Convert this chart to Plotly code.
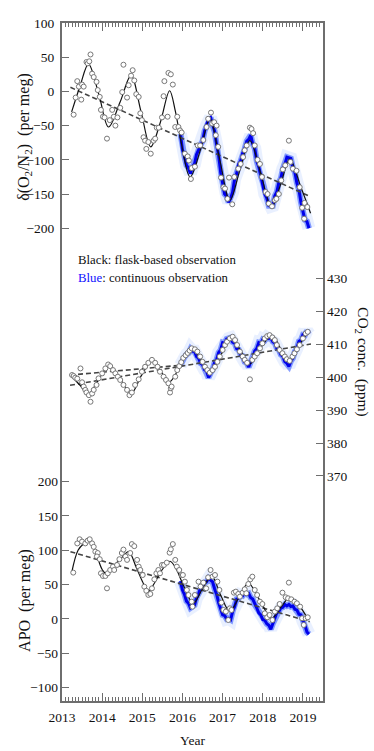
import plotly.graph_objects as go

# ---------------- DATA ----------------
# delta(O2/N2) panel (per meg)
o2_flask_t = [2013.29, 2013.34, 2013.38, 2013.42, 2013.48, 2013.50, 2013.54, 2013.61, 2013.64, 2013.68,
              2013.71, 2013.75, 2013.79, 2013.86, 2013.89, 2013.94, 2013.97, 2014.02, 2014.06, 2014.12,
              2014.19, 2014.25, 2014.29, 2014.33, 2014.38, 2014.45, 2014.50, 2014.53, 2014.62, 2014.66,
              2014.72, 2014.76, 2014.80, 2014.85, 2014.91, 2014.95, 2014.99, 2015.03, 2015.07, 2015.10,
              2015.15, 2015.21, 2015.28, 2015.32, 2015.36, 2015.41, 2015.49, 2015.53, 2015.55, 2015.63,
              2015.65, 2015.71, 2015.76, 2015.82, 2015.87, 2015.90, 2015.94,
              2015.98, 2016.06, 2016.13, 2016.16, 2016.21, 2016.23, 2016.31, 2016.38, 2016.44, 2016.52,
              2016.60, 2016.64, 2016.71, 2016.74, 2016.79, 2016.83, 2016.85, 2016.89, 2016.96, 2017.02,
              2017.06, 2017.12, 2017.16, 2017.24, 2017.29, 2017.39, 2017.45, 2017.51, 2017.55, 2017.60,
              2017.68, 2017.72, 2017.76, 2017.80, 2017.87, 2017.93, 2017.98, 2018.07, 2018.12, 2018.15,
              2018.23, 2018.30, 2018.34, 2018.40, 2018.46, 2018.50, 2018.56, 2018.65, 2018.69, 2018.75,
              2018.84, 2018.92, 2018.98, 2019.03, 2019.04, 2019.11]
o2_flask_v = [-34, -9, 15, 7, -12, 10, 7, 43, 41, 44,
              54, 26, 21, 14, 2, -8, -27, -37, -38, -69,
              -42, -27, -37, -50, -38, -24, -1, 39, -9, 9,
              23, 31, 16, -4, -8, -32, -42, -67, -72, -84,
              -74, -91, -72, -69, -53, -53, -38, -7, 15, -37,
              27, 25, 10, -52, -37, -52, -57,
              -60, -91, -95, -101, -128, -112, -110, -79, -79, -71,
              -52, -40, -31, -47, -45, -64, -50, -81, -126, -140,
              -142, -157, -126, -165, -125, -113, -106, -96, -86, -79,
              -53, -55, -61, -79, -100, -106, -125, -147, -150, -164,
              -168, -159, -157, -150, -130, -114, -108, -72, -103, -113,
              -116, -140, -170, -186, -163, -169]
o2_fit_t = [2013.24, 2013.45, 2013.66, 2013.92, 2014.16, 2014.45, 2014.72, 2014.97, 2015.21, 2015.45,
            2015.68, 2015.82, 2015.97, 2016.19, 2016.45, 2016.68, 2016.93, 2017.18, 2017.43, 2017.68,
            2017.95, 2018.22, 2018.45, 2018.67, 2018.95, 2019.19]
o2_fit_v = [-30, 8, 40, -5, -52, -15, 23, -30, -81, -45,
            1, -28, -75, -125, -85, -40, -100, -159, -115, -72,
            -120, -169, -135, -99, -140, -178]
o2_trend_t = [2013.21, 2019.19]
o2_trend_v = [6, -154]
o2_cont_t = [2015.95, 2016.00, 2016.05, 2016.10, 2016.15, 2016.20, 2016.25, 2016.30, 2016.35, 2016.40,
             2016.45, 2016.50, 2016.55, 2016.60, 2016.65, 2016.70, 2016.75, 2016.80, 2016.85, 2016.90,
             2016.95, 2017.00, 2017.05, 2017.10, 2017.15, 2017.20, 2017.25, 2017.30, 2017.35, 2017.40,
             2017.45, 2017.50, 2017.55, 2017.60, 2017.65, 2017.70, 2017.75, 2017.80, 2017.85, 2017.90,
             2017.95, 2018.00, 2018.05, 2018.10, 2018.15, 2018.20, 2018.25, 2018.30, 2018.35, 2018.40,
             2018.45, 2018.50, 2018.55, 2018.60, 2018.65, 2018.70, 2018.75, 2018.80, 2018.85, 2018.90,
             2018.95, 2019.00, 2019.05, 2019.10, 2019.15]
o2_cont_v = [-62, -85, -95, -108, -112, -120, -110, -106, -92, -86,
             -78, -73, -58, -50, -40, -38, -50, -58, -78, -93,
             -118, -133, -150, -153, -162, -156, -147, -128, -120, -106,
             -102, -90, -84, -73, -70, -64, -77, -83, -102, -110,
             -124, -133, -150, -156, -167, -168, -167, -153, -147, -133,
             -127, -113, -107, -96, -97, -98, -112, -118, -134, -143,
             -162, -173, -188, -190, -200]

# CO2 panel (ppm)
co2_flask_t = [2013.25, 2013.29, 2013.33, 2013.38, 2013.46, 2013.50, 2013.54, 2013.58, 2013.61, 2013.67,
               2013.71, 2013.75, 2013.79, 2013.86, 2013.91, 2014.00, 2014.08, 2014.15, 2014.20, 2014.27,
               2014.33, 2014.39, 2014.45, 2014.53, 2014.62, 2014.68, 2014.74, 2014.82, 2014.91, 2014.99,
               2015.07, 2015.15, 2015.24, 2015.32, 2015.38, 2015.44, 2015.53, 2015.59, 2015.65, 2015.69,
               2015.71, 2015.73, 2015.82, 2015.87, 2015.92, 2015.97, 2016.02, 2016.08, 2016.13, 2016.18,
               2016.23, 2016.31, 2016.37, 2016.44, 2016.50, 2016.56, 2016.62, 2016.68, 2016.75, 2016.81,
               2016.87, 2016.93, 2017.00, 2017.06, 2017.11, 2017.18, 2017.25, 2017.31, 2017.36, 2017.43,
               2017.50, 2017.55, 2017.61, 2017.68, 2017.74, 2017.80, 2017.86, 2017.93, 2017.99, 2018.05,
               2018.11, 2018.17, 2018.24, 2018.30, 2018.35, 2018.42, 2018.49, 2018.55, 2018.60, 2018.67,
               2018.74, 2018.79, 2018.85, 2018.92, 2019.00, 2019.07, 2019.12]
co2_flask_v = [400.6, 400.3, 399.8, 399.5, 402.6, 398.4, 397.1, 396.1, 395.3, 394.5,
               392.5, 395.0, 396.1, 397.6, 399.6, 401.1, 402.6, 403.8, 403.3, 402.1,
               401.1, 400.1, 399.1, 397.6, 396.1, 394.5, 395.3, 397.6, 399.3, 401.6,
               403.1, 404.3, 405.2, 404.3, 403.1, 401.6, 400.1, 399.1, 398.1, 395.3,
               396.6, 397.1, 400.1, 402.1, 403.3, 404.5, 405.8, 406.6, 407.3, 408.0,
               408.7, 408.4, 407.7, 406.2, 404.6, 403.1, 402.1, 401.3, 402.1, 403.1,
               404.6, 406.2, 408.2, 409.7, 410.7, 411.7, 412.2, 411.2, 409.7, 407.7,
               406.2, 405.2, 404.3, 399.3, 405.2, 406.2, 407.2, 408.7, 410.2, 411.7,
               412.4, 412.7, 412.0, 411.2, 409.7, 408.2, 407.2, 406.2, 405.4, 404.9,
               406.2, 407.2, 408.4, 409.7, 411.7, 413.2, 413.7]
co2_fit_t = [2013.25, 2013.45, 2013.65, 2013.90, 2014.17, 2014.45, 2014.72, 2014.98, 2015.25, 2015.45,
             2015.67, 2015.95, 2016.23, 2016.45, 2016.68, 2016.95, 2017.22, 2017.45, 2017.68, 2017.95,
             2018.24, 2018.45, 2018.67, 2018.90, 2019.12]
co2_fit_v = [400.0, 397.5, 394.8, 399.0, 403.5, 399.5, 395.0, 400.5, 405.0, 402.0,
             398.5, 403.5, 408.5, 405.5, 401.0, 406.5, 412.0, 408.0, 404.0, 409.0,
             412.5, 408.5, 405.0, 409.5, 413.5]
co2_trend_t = [2013.20, 2019.20]
co2_trend_v = [397.5, 410.0]
co2_trend2_t = [2013.20, 2016.00]
co2_trend2_v = [400.6, 403.6]
co2_cont_t = o2_cont_t
co2_cont_v = [403.5, 405.5, 406.0, 406.8, 407.2, 408.5, 407.8, 407.8, 406.2, 405.8,
              404.2, 403.8, 402.2, 401.8, 399.8, 401.2, 402.2, 404.4, 405.2, 407.4,
              408.2, 410.4, 410.2, 411.5, 411.7, 411.9, 410.6, 410.3, 408.6, 408.3,
              406.7, 406.4, 404.6, 404.3, 403.0, 404.8, 405.6, 407.9, 408.6, 410.4,
              410.2, 411.4, 411.1, 411.9, 411.7, 411.8, 410.7, 410.3, 408.7, 408.3,
              406.8, 406.3, 404.7, 404.2, 403.2, 404.8, 405.7, 407.8, 408.7, 410.8,
              411.2, 412.8, 412.7, 414.0, 413.0]

# APO panel (per meg)
apo_flask_t = [2013.28, 2013.38, 2013.44, 2013.50, 2013.58, 2013.64, 2013.69, 2013.75, 2013.79, 2013.83,
               2013.89, 2013.87, 2013.94, 2013.97, 2014.02, 2014.08, 2014.12, 2014.14, 2014.20, 2014.27,
               2014.30, 2014.37, 2014.43, 2014.49, 2014.53, 2014.58, 2014.62, 2014.70, 2014.74, 2014.80,
               2014.87, 2014.91, 2014.95, 2015.01, 2015.05, 2015.10, 2015.15, 2015.20, 2015.24, 2015.30,
               2015.35, 2015.40, 2015.44, 2015.49, 2015.54, 2015.61, 2015.68, 2015.71, 2015.76, 2015.82,
               2015.86, 2015.92, 2015.98,
               2016.01, 2016.06, 2016.11, 2016.15, 2016.23, 2016.25, 2016.31, 2016.40, 2016.45, 2016.52,
               2016.59, 2016.64, 2016.70, 2016.75, 2016.81, 2016.87, 2016.92, 2016.97, 2017.02, 2017.08,
               2017.14, 2017.18, 2017.22, 2017.28, 2017.33, 2017.39, 2017.43, 2017.50, 2017.55, 2017.59,
               2017.64, 2017.69, 2017.74, 2017.80, 2017.86, 2017.93, 2017.99, 2018.05, 2018.11, 2018.17,
               2018.24, 2018.30, 2018.36, 2018.42, 2018.49, 2018.57, 2018.63, 2018.65, 2018.71, 2018.79,
               2018.85, 2018.93, 2018.98, 2019.02, 2019.07, 2019.12]
apo_flask_v = [67.5, 110, 116, 112.6, 110, 114, 116, 110, 105, 98,
               96, 91, 87, 66.5, 62.6, 62.6, 44.6, 66.5, 71.3, 76.2,
               71.3, 78.6, 87, 96, 101, 91, 86, 96, 109, 106,
               86, 76.2, 71.3, 64, 47, 41, 35, 36.4, 44.6, 57.7,
               66.5, 71.3, 66.5, 78.6, 78.6, 82, 96.5, 101.4, 109, 86,
               76.2, 71.3, 64,
               64, 54.3, 42.2, 34.9, 25.2, 17.9, 34.9, 54.3, 47.1, 52.9,
               44.6, 60.6, 71.3, 61.6, 64, 54.3, 42.2, 23.8, 13.1, 10.7,
               -1.5, 15.5, 13.1, 38.3, 39.8, 36.4, 32.5, 38.3, 43.2, 37.4,
               50.9, 57.7, 61.6, 42.2, 34.9, 25.2, 21.8, 8.2, 2.4, 5.8,
               -1.5, 10.7, 15.5, 21.8, 38.3, 31.6, 30.1, 52.9, 28.6, 25.2,
               22.8, 17.9, 1, -8.7, 1, 2.4]
apo_fit_t = [2013.24, 2013.40, 2013.55, 2013.68, 2013.85, 2014.00, 2014.10, 2014.30, 2014.50, 2014.66,
             2014.85, 2015.00, 2015.15, 2015.30, 2015.50, 2015.69, 2015.85, 2016.00, 2016.27, 2016.50,
             2016.73, 2016.95, 2017.18, 2017.42, 2017.64, 2017.92, 2018.22, 2018.45, 2018.67, 2018.90,
             2019.12]
apo_fit_v = [67, 100, 110, 115, 95, 72, 66, 78, 90, 98,
             75, 55, 40, 52, 72, 84, 72, 52, 23, 44,
             62, 35, 11, 33, 52, 28, 1, 17, 31, 20,
             0]
apo_trend_t = [2013.21, 2019.17]
apo_trend_v = [98, -4]
apo_cont_t = o2_cont_t
apo_cont_v = [55, 42, 36, 26, 23, 16, 18, 20, 31, 36,
              45, 47, 53, 54, 59, 56, 54, 44, 36, 24,
              16, 6, 5, 0, 1, -1, 11, 18, 29, 30,
              35, 34, 38, 36, 37, 31, 29, 21, 16, 9,
              6, -1, -2, -7, -9, -15, -7, 1, 9, 11,
              16, 17, 21, 19, 21, 18, 19, 14, 13, 7,
              6, -3, -9, -19, -22]

year_ticks = [2013, 2014, 2015, 2016, 2017, 2018, 2019]
o2_ticks = [-200, -150, -100, -50, 0, 50, 100]
co2_ticks = [370, 380, 390, 400, 410, 420, 430]
apo_ticks = [-100, -50, 0, 50, 100, 150, 200]

# ---------------- FIGURE ----------------
FONT = "Liberation Serif"
AX = "#6e6e6e"
fig = go.Figure()

def add_panel(ax, cont_t, cont_v, trend_sets, fit_t, fit_v, fl_t, fl_v):
    fig.add_trace(go.Scatter(x=cont_t, y=cont_v, yaxis=ax, mode="lines",
                             line=dict(color="rgba(120,160,255,0.16)", width=13), hoverinfo="skip"))
    fig.add_trace(go.Scatter(x=cont_t, y=cont_v, yaxis=ax, mode="lines",
                             line=dict(color="rgba(40,80,255,0.55)", width=6), hoverinfo="skip"))
    fig.add_trace(go.Scatter(x=cont_t, y=cont_v, yaxis=ax, mode="lines",
                             line=dict(color="rgb(0,0,235)", width=3), hoverinfo="skip"))
    for tt, tv in trend_sets:
        fig.add_trace(go.Scatter(x=tt, y=tv, yaxis=ax, mode="lines",
                                 line=dict(color="#444444", width=1.6, dash="5px,3px")))
    fig.add_trace(go.Scatter(x=fit_t, y=fit_v, yaxis=ax, mode="lines",
                             line=dict(color="#111111", width=1.2, shape="spline", smoothing=1.0)))
    fig.add_trace(go.Scatter(x=fl_t, y=fl_v, yaxis=ax, mode="markers",
                             marker=dict(symbol="circle", size=5, color="white",
                                         line=dict(color="#777777", width=1))))

add_panel("y", o2_cont_t, o2_cont_v, [(o2_trend_t, o2_trend_v)], o2_fit_t, o2_fit_v, o2_flask_t, o2_flask_v)
add_panel("y2", co2_cont_t, co2_cont_v, [(co2_trend_t, co2_trend_v), (co2_trend2_t, co2_trend2_v)],
          co2_fit_t, co2_fit_v, co2_flask_t, co2_flask_v)
add_panel("y3", apo_cont_t, apo_cont_v, [(apo_trend_t, apo_trend_v)], apo_fit_t, apo_fit_v, apo_flask_t, apo_flask_v)

tickfont = dict(family=FONT, size=13.5, color="#111111")
yax_common = dict(ticks="inside", ticklen=7, tickwidth=1.3, tickcolor=AX, showgrid=False,
                  zeroline=False, tickfont=tickfont, tickmode="array", fixedrange=True,
                  ticklabelstandoff=3)

fig.update_layout(
    width=374, height=751,
    margin=dict(l=62, r=51, t=23, b=50),
    paper_bgcolor="white", plot_bgcolor="white",
    showlegend=False,
    xaxis=dict(range=[2013, 2019.5], tickmode="array", tickvals=year_ticks,
               ticks="inside", ticklen=8, tickwidth=1.3, tickcolor=AX,
               minor=dict(tick0=2013, dtick=1/12, ticks="inside", ticklen=4, tickwidth=1, tickcolor=AX),
               showline=True, linecolor=AX, linewidth=2, mirror="ticks",
               showgrid=False, zeroline=False, tickfont=tickfont, tickformat="d",
               ticklabelstandoff=3),
    yaxis=dict(range=[-891, 100], tickvals=o2_ticks, side="left",
               showline=True, linecolor=AX, linewidth=2, mirror=True, **yax_common),
    yaxis2=dict(range=[301.8, 507.3], tickvals=co2_ticks, side="right", overlaying="y",
                showline=False, **yax_common),
    yaxis3=dict(range=[-119.4, 867.5], tickvals=apo_ticks, side="left", overlaying="y",
                showline=False, **yax_common),
)

ann_font = dict(family=FONT, size=16, color="#111111")
fig.add_annotation(text="δ(O<sub>2</sub>/N<sub>2</sub>)  (per meg)", xref="paper", yref="paper",
                   x=-0.142, y=0.832, xanchor="center", yanchor="middle",
                   textangle=-90, showarrow=False, font=ann_font)
fig.add_annotation(text="APO  (per meg)", xref="paper", yref="paper",
                   x=-0.142, y=0.149, xanchor="center", yanchor="middle",
                   textangle=-90, showarrow=False, font=ann_font)
fig.add_annotation(text="CO<sub>2</sub> conc.  (ppm)", xref="paper", yref="paper",
                   x=1.153, y=0.5, xanchor="center", yanchor="middle",
                   textangle=90, showarrow=False, font=dict(family=FONT, size=15.5, color="#111111"))
fig.add_annotation(text="Year", xref="paper", yref="paper", x=0.5, y=-0.058,
                   xanchor="center", yanchor="middle", showarrow=False,
                   font=dict(family=FONT, size=13.5, color="#111111"))
fig.add_annotation(text="Black: flask-based observation", xref="paper", yref="paper",
                   x=0.054, y=0.650, xanchor="left", yanchor="middle", showarrow=False,
                   font=dict(family=FONT, size=12.8, color="#111111"))
fig.add_annotation(text="<span style='color:#1010ff'>Blue</span>: continuous observation",
                   xref="paper", yref="paper", x=0.054, y=0.624, xanchor="left", yanchor="middle",
                   showarrow=False, font=dict(family=FONT, size=12.8, color="#111111"))

fig.write_html("out.html")
